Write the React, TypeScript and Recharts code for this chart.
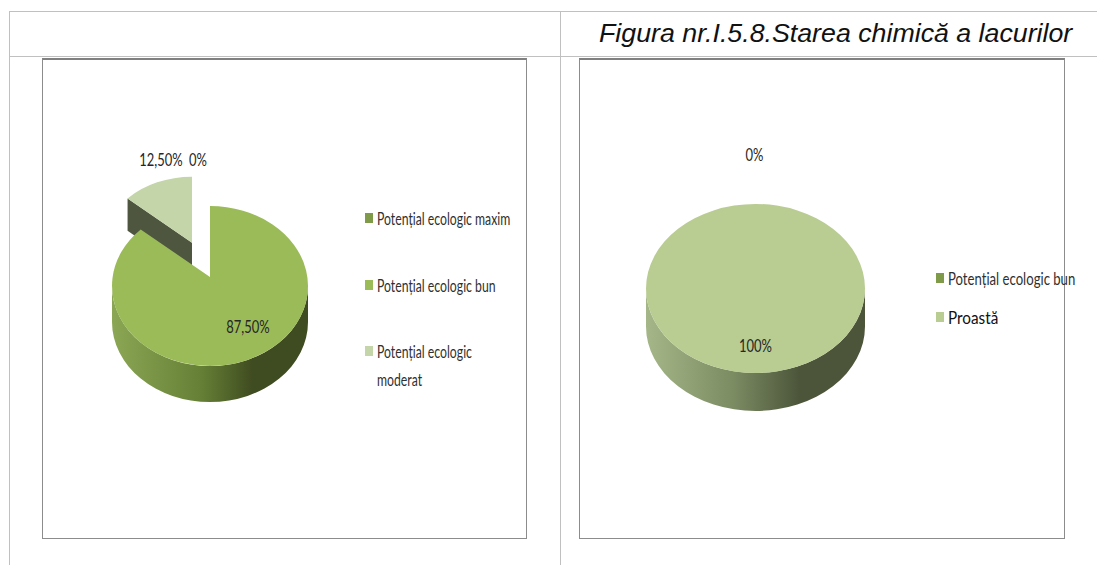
import React from 'react';
import { PieChart, Pie, Legend } from 'recharts';

// left pie, listed starting from the exploded slice so it is painted behind the big one
const leftNames = ['Potențial ecologic moderat', 'Potențial ecologic bun', 'Potențial ecologic maxim'];
const leftValues = [12.5, 87.5, 0];
const leftLegendOrder = ['Potențial ecologic maxim', 'Potențial ecologic bun', 'Potențial ecologic moderat'];

const rightNames = ['Potențial ecologic bun', 'Proastă'];
const rightValues = [0, 100];

const leftColors: Record<string, string> = {
  'Potențial ecologic maxim': '#7f9a48',
  'Potențial ecologic bun': '#9bbb59',
  'Potențial ecologic moderat': '#c3d5a9',
};
const rightColors: Record<string, string> = {
  'Potențial ecologic bun': '#7f9a48',
  Proastă: '#b9cc92',
};

const leftData = leftNames.map((name, i) => ({ name, value: leftValues[i], fill: leftColors[name] }));
const rightData = rightNames.map((name, i) => ({ name, value: rightValues[i], fill: rightColors[name] }));

const FONT = 'Lato, sans-serif';
const FONT_SIZE = 18;
const LABEL_SQUEEZE = 0.72;
const PANEL_H = 481;

const fmt = (v: number) => (Number.isInteger(v) ? `${v}%` : `${v.toFixed(2).replace('.', ',')}%`);

interface Look {
  ratio: number;
  depth: number;
  lift: number;
  wall: string;
  explode?: { name: string; dx: number; dy: number; scale: number; wallFill: string };
}

const rad = (a: number) => (a * Math.PI) / 180;

const makeShape = (look: Look) => (props: any) => {
  const { cx, cy, outerRadius, startAngle, endAngle, fill, payload, value } = props;
  if (!value) return <g />;
  const ex = look.explode && look.explode.name === (payload?.name ?? props.name) ? look.explode : null;
  const k = ex ? ex.scale : 1;
  const rx = outerRadius * k;
  const ry = outerRadius * look.ratio * k;
  const x0 = cx + (ex ? ex.dx : 0);
  const y0 = cy + (ex ? ex.dy : 0);
  const pt = (a: number) => [x0 + rx * Math.cos(rad(a)), y0 - ry * Math.sin(rad(a))];
  const [sx, sy] = pt(startAngle);
  const [mx, my] = pt((startAngle + endAngle) / 2);
  const [ex2, ey2] = pt(endAngle);
  const apexY = y0 - look.lift * k;
  const sweep = endAngle < startAngle ? 1 : 0;
  const top = `M${x0},${apexY} L${sx},${sy} A${rx},${ry} 0 0 ${sweep} ${mx},${my} A${rx},${ry} 0 0 ${sweep} ${ex2},${ey2} Z`;
  if (ex) {
    // inner cut face of the pulled-out slice
    const d = look.depth * 0.9;
    const wall = `M${sx},${sy} L${x0},${apexY} L${x0},${apexY + d} L${sx},${sy + d} Z`;
    return (
      <g>
        <path d={wall} fill={ex.wallFill} />
        <path d={top} fill={fill} />
      </g>
    );
  }
  const side = `M${x0 - rx},${y0} A${rx},${ry} 0 0 0 ${x0 + rx},${y0} L${x0 + rx},${y0 + look.depth} A${rx},${ry} 0 0 1 ${x0 - rx},${y0 + look.depth} Z`;
  return (
    <g>
      <path d={side} fill={`url(#${look.wall})`} />
      <path d={top} fill={fill} />
    </g>
  );
};

const makeLabel = (offsets: Record<string, [number, number]>) => (props: any) => {
  const { cx, cy, value, name } = props;
  const [dx, dy] = offsets[name];
  return (
    <text
      transform={`translate(${cx + dx},${cy + dy}) scale(${LABEL_SQUEEZE},1)`}
      textAnchor="middle"
      dominantBaseline="central"
      fontFamily={FONT}
      fontSize={FONT_SIZE}
      fill="#262626"
    >
      {fmt(value)}
    </text>
  );
};

interface Row {
  name: string;
  top: number;
  squeeze: number;
  lines?: string[];
  color?: string;
}

const LegendRows = ({ rows, colors, width }: { rows: Row[]; colors: Record<string, string>; width: number }) => (
  <div style={{ position: 'relative', width, height: 230, fontFamily: FONT, fontSize: FONT_SIZE, lineHeight: '28px', color: '#303030' }}>
    {rows.map(r => (
      <div key={r.name} style={{ position: 'absolute', top: r.top, left: 0, paddingLeft: 12, width: width - 12 }}>
        <span style={{ position: 'absolute', left: 0, top: 9, width: 8, height: 10, background: colors[r.name] }} />
        {(r.lines ?? [r.name]).map(line => (
          <div key={line} style={{ height: 28 }}>
            <span
              style={{
                display: 'inline-block',
                transform: `scaleX(${r.squeeze})`,
                transformOrigin: 'left center',
                whiteSpace: 'nowrap',
                color: r.color,
              }}
            >
              {line}
            </span>
          </div>
        ))}
      </div>
    ))}
  </div>
);

const frame: React.CSSProperties = {
  position: 'absolute',
  top: 58,
  height: PANEL_H,
  boxSizing: 'border-box',
  border: '1px solid #8c8c8c',
  borderTop: '2px solid #808080',
};

const rule = (s: React.CSSProperties): React.CSSProperties => ({ position: 'absolute', background: '#c0c0c0', ...s });

const leftLook: Look = {
  ratio: 0.816,
  depth: 36,
  lift: 9,
  wall: 'wallLeft',
  explode: { name: 'Potențial ecologic moderat', dx: -18, dy: -35, scale: 0.93, wallFill: '#4f5640' },
};
const rightLook: Look = { ratio: 0.772, depth: 38, lift: 0, wall: 'wallRight' };

const App = () => (
  <div style={{ position: 'absolute', left: 0, top: 0, width: 1097, height: 565, background: '#fff', overflow: 'hidden' }}>
    <div style={rule({ left: 9, top: 11, width: 1088, height: 1 })} />
    <div style={rule({ left: 9, top: 56, width: 1088, height: 1 })} />
    <div style={rule({ left: 9, top: 11, width: 1, height: 554 })} />
    <div style={rule({ left: 560, top: 11, width: 1, height: 554 })} />
    <div
      style={{
        position: 'absolute',
        left: 599,
        top: 19,
        fontFamily: '"Liberation Sans", sans-serif',
        fontStyle: 'italic',
        fontSize: 25,
        whiteSpace: 'nowrap',
        color: '#111',
        transform: 'scaleX(1.07)',
        transformOrigin: 'left center',
      }}
    >
      Figura nr.I.5.8.Starea chimică a lacurilor
    </div>

    <div style={{ ...frame, left: 42, width: 485 }} />
    <div style={{ position: 'absolute', left: 42, top: 58 }}>
      <PieChart width={485} height={PANEL_H} margin={{ top: 0, right: 0, bottom: 0, left: 0 }}>
        <defs>
          <linearGradient id="wallLeft" x1="0" y1="0" x2="1" y2="0">
            <stop offset="0%" stopColor="#8ba654" />
            <stop offset="45%" stopColor="#668136" />
            <stop offset="72%" stopColor="#3f4b20" />
            <stop offset="100%" stopColor="#3f4b20" />
          </linearGradient>
        </defs>
        <Pie
          data={leftData}
          dataKey="value"
          nameKey="name"
          cx={168}
          cy={228}
          outerRadius={98}
          startAngle={135}
          endAngle={-225}
          stroke="none"
          isAnimationActive={false}
          shape={makeShape(leftLook)}
          labelLine={false}
          label={makeLabel({
            'Potențial ecologic moderat': [-49, -127],
            'Potențial ecologic bun': [38, 40],
            'Potențial ecologic maxim': [-12, -127],
          })}
        />
        <Legend
          layout="vertical"
          wrapperStyle={{ left: 323, top: 146, width: 161, bottom: 'auto' }}
          content={() => (
            <LegendRows
              width={158}
              colors={leftColors}
              rows={[
                { name: leftLegendOrder[0], top: 0, squeeze: 0.68 },
                { name: leftLegendOrder[1], top: 67, squeeze: 0.68 },
                { name: leftLegendOrder[2], top: 133, squeeze: 0.68, lines: ['Potențial ecologic', 'moderat'] },
              ]}
            />
          )}
        />
      </PieChart>
    </div>

    <div style={{ ...frame, left: 579, width: 486 }} />
    <div style={{ position: 'absolute', left: 579, top: 58 }}>
      <PieChart width={485} height={PANEL_H} margin={{ top: 0, right: 0, bottom: 0, left: 0 }}>
        <defs>
          <linearGradient id="wallRight" x1="0" y1="0" x2="1" y2="0">
            <stop offset="0%" stopColor="#a5b788" />
            <stop offset="40%" stopColor="#7b8b62" />
            <stop offset="70%" stopColor="#4c553a" />
            <stop offset="100%" stopColor="#4c553a" />
          </linearGradient>
        </defs>
        <Pie
          data={rightData}
          dataKey="value"
          nameKey="name"
          cx={176.5}
          cy={230.5}
          outerRadius={109.5}
          startAngle={90}
          endAngle={-270}
          stroke="none"
          isAnimationActive={false}
          shape={makeShape(rightLook)}
          labelLine={false}
          label={makeLabel({
            'Potențial ecologic bun': [-1, -134],
            Proastă: [0, 57],
          })}
        />
        <Legend
          layout="vertical"
          wrapperStyle={{ left: 357, top: 206, width: 128, bottom: 'auto' }}
          content={() => (
            <LegendRows
              width={128}
              colors={rightColors}
              rows={[
                { name: rightNames[0], top: 0, squeeze: 0.73 },
                { name: rightNames[1], top: 39, squeeze: 0.85, color: '#111' },
              ]}
            />
          )}
        />
      </PieChart>
    </div>
  </div>
);

export default App;
